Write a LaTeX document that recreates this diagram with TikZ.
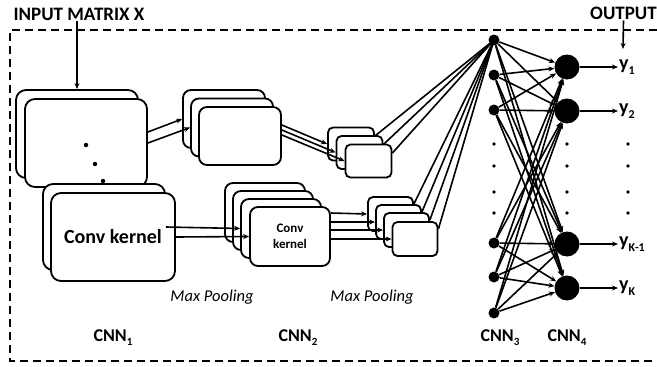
\documentclass[tikz,border=0pt]{standalone}
\usepackage{fontspec}
\setmainfont{Carlito}
\usetikzlibrary{arrows.meta}
\newcommand\mysub[2][9]{\raisebox{-0.45ex}{\fontsize{#1}{#1}\selectfont #2}}
\tikzset{
  box/.style={draw, line width=1.8pt, rounded corners=7pt, fill=white, inner sep=0pt},
  bigbox/.style={box, minimum width=122pt, minimum height=88pt, rounded corners=10pt},
  midbox/.style={box, minimum width=82pt, minimum height=58pt, rounded corners=8pt},
  smallbox/.style={box, minimum width=46pt, minimum height=33pt, rounded corners=5pt},
  ln/.style={line width=1.6pt},
  arr/.style={line width=1.6pt, -{Stealth[length=6pt,width=5pt]}},
  tip/.style={line width=1.6pt, -{Stealth[length=6pt,width=5pt]}},
  dot/.style={circle, fill=black, inner sep=0pt, minimum size=3.8pt},
  n3/.style={circle, fill=black, inner sep=0pt, minimum size=11pt},
  n4/.style={circle, fill=black, inner sep=0pt, minimum size=25pt},
  lbl/.style={font=\bfseries\fontsize{18}{18}\selectfont, inner sep=1pt},
  ylbl/.style={font=\bfseries\fontsize{20}{20}\selectfont, inner sep=1pt},
  mp/.style={font=\itshape\fontsize{16.5}{16.5}\selectfont},
  frame/.style={line width=1.5pt, dash pattern=on 8pt off 5pt}
}
\begin{document}
\begin{tikzpicture}[x=1pt,y=-1pt]
\useasboundingbox (0,0) rectangle (657,367);
% frame
\draw[frame] (657,30) -- (10,30) -- (10,361) -- (657,361);
% titles
\node[font=\bfseries\fontsize{19}{19}\selectfont, inner sep=1pt] (inp) at (79,14) {INPUT MATRIX X};
\node[font=\bfseries\fontsize{19}{19}\selectfont, inner sep=1pt] (out) at (623.5,13) {OUTPUT};
\coordinate (outend) at (623,49);
% CNN1 stacks
\node[bigbox] (t1a) at (77,134) {};
\node[bigbox] (t1b) at (86,143) {};
\node[dot, minimum size=4.5pt] (da) at (86,145) {};
\node[dot, minimum size=4.5pt] (db) at (95,164) {};
\node[dot, minimum size=4.5pt] (dc) at (103,181) {};
\node[bigbox, minimum height=86pt] (b1a) at (104,227) {};
\node[bigbox, minimum width=124pt, font=\bfseries\fontsize{20}{20}\selectfont] (b1b) at (113,237) {Conv kernel};
% CNN2 stacks
\node[midbox] (t2a) at (224,119) {};
\node[midbox] (t2b) at (232,127.5) {};
\node[midbox] (t2c) at (240,136) {};
\node[midbox, minimum width=80pt, minimum height=59pt] (b2a) at (265,212.5) {};
\node[midbox, minimum width=80pt, minimum height=59pt] (b2b) at (273,220.5) {};
\node[midbox, minimum width=80pt, minimum height=59pt] (b2c) at (281,228.5) {};
\node[midbox, minimum width=80pt, minimum height=59pt, align=center, font=\bfseries\fontsize{13}{16.5}\selectfont] (b2d) at (290,236.5) {Conv\\kernel};
% small boxes
\node[smallbox] (s1) at (351,144) {};
\node[smallbox] (s2) at (359.5,152.5) {};
\node[smallbox] (s3) at (368.5,161) {};
\node[smallbox, minimum width=45pt, minimum height=34pt] (sb1) at (390.5,214) {};
\node[smallbox, minimum width=45pt, minimum height=34pt] (sb2) at (398.5,222) {};
\node[smallbox, minimum width=45pt, minimum height=34pt] (sb3) at (406.5,230) {};
\node[smallbox, minimum width=45pt, minimum height=34pt] (sb4) at (415,239) {};
% CNN3 / CNN4 nodes
\node[n3] (c31) at (494,40) {};
\node[n3] (c32) at (494,75) {};
\node[n3] (c33) at (494,110) {};
\node[n3] (c34) at (494,243) {};
\node[n3] (c35) at (494,277) {};
\node[n3] (c36) at (494,313) {};
\node[n4] (c41) at (567,67) {};
\node[n4] (c42) at (567,111) {};
\node[n4] (c43) at (567,244) {};
\node[n4] (c44) at (567,288) {};
\foreach \c/\x in {a/494,b/567,c/628}{
  \foreach \k/\y in {1/144,2/166,3/192,4/213}{
    \node[dot] (v\c\k) at (\x,\y) {};
  }
}
% outputs
\node[ylbl, anchor=west] (y1) at (618,67) {y\mysub[12]{1}};
\node[ylbl, anchor=west] (y2) at (618,111) {y\mysub[12]{2}};
\node[ylbl, anchor=west] (y3) at (618,244) {y\mysub[12]{K-1}};
\node[ylbl, anchor=west] (y4) at (618,288) {y\mysub[12]{K}};
% labels
\node[mp] (mp1) at (212,297) {Max Pooling};
\node[mp] (mp2) at (372,297) {Max Pooling};
\node[lbl] (k1) at (113,338) {CNN\mysub[11]{1}};
\node[lbl] (k2) at (298,338) {CNN\mysub[11]{2}};
\node[lbl] (k3) at (500,338) {CNN\mysub[11]{3}};
\node[lbl] (k4) at (567,338) {CNN\mysub[11]{4}};
% arrows
\draw[arr] (t1a.north |- inp.south) -- (t1a.north);
\draw[arr] (out.south) -- (outend);
\draw[arr] ([yshift=11pt]t1b.east) -- (t2a.west);
\draw[arr] (t1b.east) -- (t2b.west);
\draw[arr] (b1a.east) -- (b2c.west);
\draw[arr] (b1b.east) -- (b2d.west);
\draw[tip] ([yshift=11pt]t2c.east) -- (s1.west);
\draw[tip] ([yshift=6pt]t2c.east) -- (s2.west);
\draw[tip] ([yshift=1pt]t2c.east) -- (s3.west);
\draw[tip] ([yshift=23.5pt]b2d.east) -- (sb1.west);
\draw[tip] ([yshift=14.5pt]b2d.east) -- (sb2.west);
\draw[tip] ([yshift=6.5pt]b2d.east) -- (sb3.west);
\draw[tip] ([yshift=-2.5pt]b2d.east) -- (sb4.west);
\foreach \b in {s1,s2,s3}{\draw[ln] ([yshift=8pt]\b.east) -- (c31.center);}
\foreach \b in {sb1,sb2,sb3,sb4}{\draw[ln] ([yshift=10pt]\b.east) -- (c31.center);}
\foreach \i in {1,...,6}{\foreach \j in {1,...,4}{\draw[tip] (c3\i) -- (c4\j);}}
\foreach \j in {1,...,4}{\draw[arr] (c4\j) -- (y\j);}
\end{tikzpicture}
\end{document}
